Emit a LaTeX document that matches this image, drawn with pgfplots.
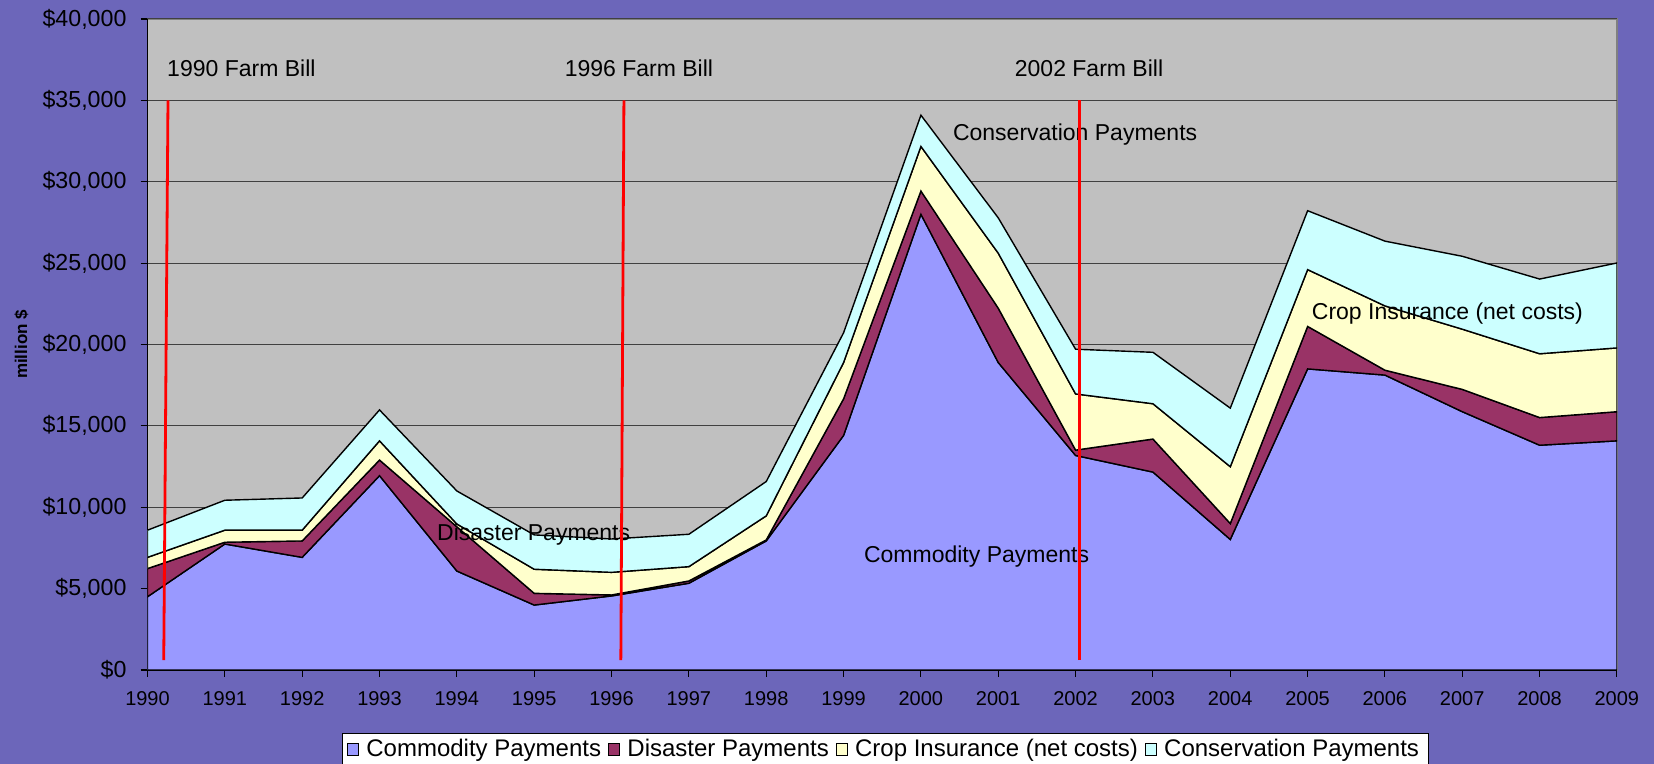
\documentclass[border=0pt]{standalone}
\usepackage{pgfplots}
\usepackage{pgfplotstable}
\pgfplotsset{compat=1.18}
\usepackage{fontspec}
\setmainfont{Liberation Sans}
\definecolor{bgpurple}{RGB}{108,102,186}
\definecolor{plotgray}{RGB}{192,192,192}
\definecolor{commodity}{RGB}{153,153,255}
\definecolor{disaster}{RGB}{153,51,102}
\definecolor{cropins}{RGB}{255,255,204}
\definecolor{conserv}{RGB}{204,255,255}

\pgfplotstableread{
year C D I K
1990 4500 1730 690 1670
1991 7740 110 740 1840
1992 6920 1010 660 1980
1993 11940 960 1180 1900
1994 6080 2720 170 2030
1995 3990 720 1480 2110
1996 4550 60 1390 2050
1997 5330 140 880 1990
1998 7930 60 1480 2110
1999 14410 2250 2230 1830
2000 28000 1430 2740 1920
2001 18890 3340 3380 2170
2002 13180 330 3450 2750
2003 12160 2030 2170 3160
2004 8020 980 3490 3600
2005 18500 2610 3490 3620
2006 18120 300 3950 3980
2007 15870 1370 3700 4480
2008 13810 1700 3920 4590
2009 14080 1790 3920 5220
}\datatable

\begin{document}
\begin{tikzpicture}
\useasboundingbox (0,0) rectangle (827pt,382pt);
\fill[bgpurple] (0,0) rectangle (827pt,382pt);
\begin{axis}[
  at={(73.75pt,47pt)}, anchor=south west,
  scale only axis, width=734.75pt, height=325.5pt,
  xmin=1990, xmax=2009, ymin=0, ymax=40000,
  axis lines*=left,
  axis line style={-, black, line width=0.8pt},
  axis background/.style={fill=plotgray, draw=black!50, line width=0.6pt},
  xtick={1990,...,2009}, ytick={0,5000,...,40000},
  tick align=outside, tick style={black, line width=0.6pt}, major tick length=3.5pt,
  ymajorgrids, grid style={black!75, line width=0.5pt},
  scaled y ticks=false,
  yticklabel={\$\pgfmathprintnumber[assume math mode=true,1000 sep={,}]{\tick}},
  xticklabel={\pgfmathprintnumber[assume math mode=true,1000 sep={},fixed,precision=0]{\tick}},
  y tick label style={font=\fontsize{11.6}{13}\selectfont, text=black, xshift=-3.5pt},
  x tick label style={font=\fontsize{10}{12}\selectfont, text=black, yshift=-3.5pt},
  ylabel={million \$},
  ylabel style={font=\bfseries\fontsize{8.5}{9}\selectfont, at={(axis description cs:-0.0857,0.5)}, anchor=center},
  legend style={at={(0.5019,-0.1475)}, anchor=south, legend columns=4, draw=black, fill=white,
    font=\fontsize{12}{13}\selectfont, inner xsep=2.5pt, inner ysep=1pt,
    /tikz/every even column/.append style={column sep=1.5pt}},
  legend image code/.code={\draw[#1, draw=black, line width=0.5pt] (0pt,-2.8pt) rectangle (5.6pt,2.8pt); \path[draw=none, fill=none] (0pt,0pt) -- (7.4pt,0pt);},
]
\addplot[stack plots=y, fill=commodity, draw=black, line width=0.7pt] table[x=year,y=C]{\datatable} \closedcycle;
\addplot[stack plots=y, fill=disaster, draw=black, line width=0.7pt] table[x=year,y=D]{\datatable} \closedcycle;
\addplot[stack plots=y, fill=cropins, draw=black, line width=0.7pt] table[x=year,y=I]{\datatable} \closedcycle;
\addplot[stack plots=y, fill=conserv, draw=black, line width=0.7pt] table[x=year,y=K]{\datatable} \closedcycle;
\legend{Commodity Payments, Disaster Payments, Crop Insurance (net costs), Conservation Payments}

\node[anchor=west, inner sep=0pt, font=\fontsize{11.5}{13}\selectfont] at (axis cs:1990.25,36990) {1990 Farm Bill};
\node[anchor=west, inner sep=0pt, font=\fontsize{11.5}{13}\selectfont] at (axis cs:1995.39,36990) {1996 Farm Bill};
\node[anchor=west, inner sep=0pt, font=\fontsize{11.5}{13}\selectfont] at (axis cs:2001.21,36990) {2002 Farm Bill};
\node[anchor=west, inner sep=0pt, font=\fontsize{11.5}{13}\selectfont] at (axis cs:2000.41,32870) {Conservation Payments};
\node[anchor=west, inner sep=0pt, font=\fontsize{11.5}{13}\selectfont] at (axis cs:2005.05,21915) {Crop Insurance (net costs)};
\node[anchor=west, inner sep=0pt, font=\fontsize{11.5}{13}\selectfont] at (axis cs:1999.26,6943) {Commodity Payments};
\node[anchor=west, inner sep=0pt, font=\fontsize{11.5}{13}\selectfont] at (axis cs:1993.74,8307) {Disaster Payments};

\addplot[red, line width=1.4pt, forget plot] coordinates {(1990.21,600) (1990.265,35000)};
\addplot[red, line width=1.4pt, forget plot] coordinates {(1996.12,600) (1996.16,35000)};
\addplot[red, line width=1.4pt, forget plot] coordinates {(2002.05,600) (2002.05,35000)};
\end{axis}
\end{tikzpicture}
\end{document}
